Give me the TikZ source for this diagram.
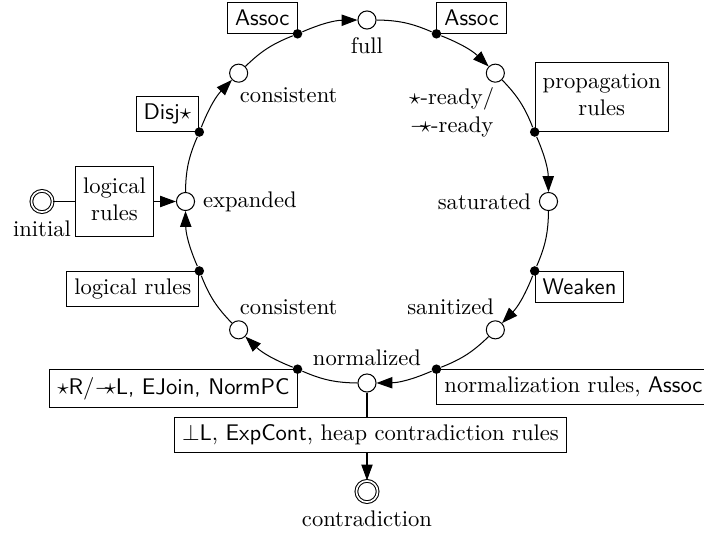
\documentclass[tikz,border=0pt]{standalone}
\usetikzlibrary{arrows.meta}
\begin{document}
\begin{tikzpicture}[x=0.4425pt, y=0.4425pt, line width=0.45pt,
  st/.style={circle, draw, inner sep=0pt, minimum size=8pt},
  fin/.style={circle, draw, double, double distance=0.75pt, inner sep=0pt, minimum size=9.4pt},
  dotn/.style={circle, fill, inner sep=0pt, minimum size=4.2pt},
  box/.style={draw, inner sep=3.33pt},
  lbl/.style={inner sep=3.33pt},
  arr/.style={-{Triangle[length=7pt,width=5pt]}},
  arc/.style={bend left=11.25},
]
\useasboundingbox (-367,-336.5) rectangle (337,201.5);
\def\R{181.5}
% states
\node[st] (full)  at (90:\R)  {};
\node[st] (star)  at (45:\R)  {};
\node[st] (sat)   at (0:\R)   {};
\node[st] (san)   at (-45:\R) {};
\node[st] (norm)  at (-90:\R) {};
\node[st] (cons2) at (225:\R) {};
\node[st] (exp)   at (180:\R) {};
\node[st] (cons1) at (135:\R) {};
% rule points
\coordinate (c112) at (112.5:\R);
\coordinate (c67)  at (67.5:\R);
\coordinate (c22)  at (22.5:\R);
\coordinate (cm22) at (-22.5:\R);
\coordinate (cm67) at (-67.5:\R);
\coordinate (c247) at (247.5:\R);
\coordinate (c202) at (202.5:\R);
\coordinate (c157) at (157.5:\R);
% boxes
\node[box, anchor=south east] (bA1) at (c112) {\textsf{Assoc}};
\node[box, anchor=south west] (bA2) at (c67) {\textsf{Assoc}};
\node[box, anchor=south west, align=center] (bprop) at (c22) {\strut propagation\\\strut rules};
\node[box, anchor=north west] (bweak) at (cm22) {\textsf{Weaken}};
\node[box, anchor=north west] (bnorm) at (cm67) {normalization rules, \textsf{Assoc}};
\node[box, anchor=north east] (bsr) at (c247) {$\star$\textsf{R}/$-\!\!\star$\textsf{L, EJoin, NormPC}};
\node[box, anchor=north east] (blog) at (c202) {logical rules};
\node[box, anchor=south east] (bdisj) at (c157) {\textsf{Disj}$\star$};
% dots
\node[dotn] (d112) at (c112) {};
\node[dotn] (d67)  at (c67)  {};
\node[dotn] (d22)  at (c22)  {};
\node[dotn] (dm22) at (cm22) {};
\node[dotn] (dm67) at (cm67) {};
\node[dotn] (d247) at (c247) {};
\node[dotn] (d202) at (c202) {};
\node[dotn] (d157) at (c157) {};
% arcs
\draw (cons1) to[arc] (d112);
\draw[arr] (d112) to[arc] (full);
\draw (full) to[arc] (d67);
\draw[arr] (d67) to[arc] (star);
\draw (star) to[arc] (d22);
\draw[arr] (d22) to[arc] (sat);
\draw (sat) to[arc] (dm22);
\draw[arr] (dm22) to[arc] (san);
\draw (san) to[arc] (dm67);
\draw[arr] (dm67) to[arc] (norm);
\draw (norm) to[arc] (d247);
\draw[arr] (d247) to[arc] (cons2);
\draw (cons2) to[arc] (d202);
\draw[arr] (d202) to[arc] (exp);
\draw (exp) to[arc] (d157);
\draw[arr] (d157) to[arc] (cons1);
% state labels
\node[lbl, anchor=north] (lfull) at (full.south) {full};
\node[lbl, anchor=north east, align=center] (lstar) at (star.south east) {$\star$-ready/\\$-\!\!\star$-ready};
\node[lbl, anchor=east] (lsat) at (sat.west) {saturated};
\node[lbl, anchor=south east] (lsan) at (san.north east) {sanitized};
\node[lbl, anchor=south] (lnorm) at (norm.north) {normalized};
\node[lbl, anchor=south west] (lcons2) at (cons2.north west) {consistent};
\node[lbl, anchor=west] (lexp) at (exp.east) {expanded};
\node[lbl, anchor=north west] (lcons1) at (cons1.south west) {consistent};
% initial
\node[fin] (init) at (-325,0) {};
\node[lbl, anchor=north] (linit) at (init.south) {initial};
\node[box, align=center] (blr) at (-252.5,0) {\strut logical\\\strut rules};
\draw (init) -- (blr);
\draw[arr] (blr) -- (exp);
% contradiction
\node[box, anchor=north west] (bbot) at (-193,-215.5) {$\bot$\textsf{L}, \textsf{ExpCont}, heap contradiction rules};
\node[fin] (contra) at (0,-290) {};
\node[lbl, anchor=north] (lcontra) at (contra.south) {contradiction};
\draw (norm) -- (norm |- bbot.north);
\draw[arr] (norm |- bbot.south) -- (contra);
\end{tikzpicture}
\end{document}
